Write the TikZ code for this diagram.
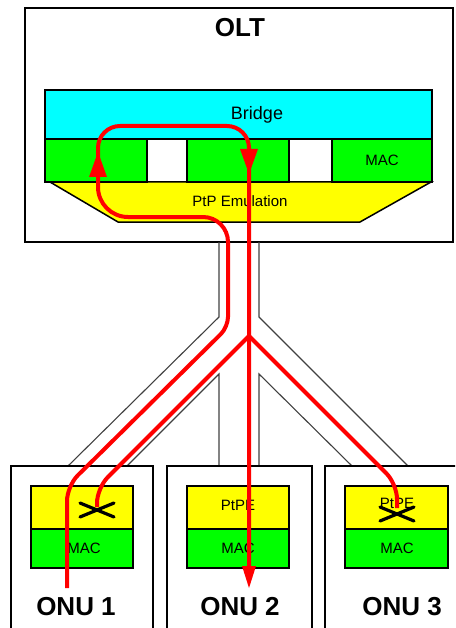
\documentclass[tikz,border=0pt]{standalone}
\usepackage{fontspec}
\setmainfont{Liberation Sans}
\definecolor{bcyan}{RGB}{0,255,255}
\definecolor{bgreen}{RGB}{0,255,0}
\definecolor{byellow}{RGB}{255,255,0}
\definecolor{bred}{RGB}{255,0,0}
\begin{document}
\begin{tikzpicture}[x=1pt,y=-1pt,
  box/.style={draw=black, line width=1.5pt},
  fiber/.style={draw=black!75, line width=1.1pt},
  redpath/.style={draw=bred, line width=4pt},
  redtip/.style={fill=bred},
  xmark/.style={draw=black, line width=3.2pt, line cap=round},
  lbl/.style={font=\fontsize{15}{15}\selectfont, inner sep=0pt},
  mid/.style={font=\fontsize{18}{18}\selectfont, inner sep=0pt},
  big/.style={font=\fontsize{26}{26}\selectfont\bfseries, inner sep=0pt}]
\useasboundingbox (0,0) rectangle (455,628);
\begin{scope}
\clip (0,0) rectangle (455,628);
% OLT
\draw[box,fill=white] (25,8) rectangle (453,242);
\node[big] (olt) at (240,28) {OLT};
\draw[box,fill=byellow] (50,182) -- (431,182) -- (360,222) -- (118,222) -- cycle;
\draw[box,fill=bcyan] (45,90) rectangle (432,139);
\draw[box,fill=bgreen] (45,139) rectangle (147,182);
\draw[box,fill=bgreen] (187,139) rectangle (289,182);
\draw[box,fill=bgreen] (332,139) rectangle (432,182);
\node[mid] (bridge) at (257,115) {Bridge};
\node[lbl] (mac0) at (382,160) {MAC};
\node[lbl] (ptp) at (240,201) {PtP Emulation};
% fibre
\draw[fiber] (219,242) -- (219,317) -- (68,466);
\draw[fiber] (259,242) -- (259,317) -- (408,466);
\draw[fiber] (127,466) -- (219,374) -- (219,466);
\draw[fiber] (352,466) -- (259,374) -- (259,466);
% ONUs
\draw[box,fill=white] (11,466) rectangle (153,640);
\draw[box,fill=white] (167,466) rectangle (312,640);
\draw[box,fill=white] (325,466) rectangle (470,640);
\draw[box,fill=byellow] (31,486) rectangle (133,529);
\draw[box,fill=bgreen] (31,529) rectangle (133,568);
\draw[box,fill=byellow] (187,486) rectangle (289,529);
\draw[box,fill=bgreen] (187,529) rectangle (289,568);
\draw[box,fill=byellow] (345,486) rectangle (448,529);
\draw[box,fill=bgreen] (345,529) rectangle (448,568);
\node[lbl] (mac1) at (84,548) {MAC};
\node[lbl] (ptpe2) at (238,505) {PtPE};
\node[lbl] (mac2) at (238,548) {MAC};
\node[lbl] (ptpe3) at (397,503) {PtPE};
\node[lbl] (mac3) at (397,548) {MAC};
\node[big] (onu1) at (76,607) {ONU 1};
\node[big] (onu2) at (240,607) {ONU 2};
\node[big] (onu3) at (402,607) {ONU 3};
% red paths
\draw[redpath] (67,588) [rounded corners=15pt] -- (67,486) [rounded corners=10pt] -- (228,327)
  [rounded corners=25pt] -- (228,217) [rounded corners=30pt] -- (98,217)
  [rounded corners=22pt] -- (98,126) -- (249,126) [sharp corners] -- (249,570);
\draw[redpath, rounded corners=15pt] (249,336) -- (97,488) -- (97,507);
\draw[redpath, rounded corners=15pt] (249,336) -- (397,484) -- (397,508);
\fill[redtip] (98,152) -- (107,177) -- (89,177) -- cycle;
\fill[redtip] (249,174) -- (258,149) -- (240,149) -- cycle;
\fill[redtip] (249,588) -- (256,566) -- (242,566) -- cycle;
% crosses
\draw[xmark] (80,503) -- (114,517) (80,517) -- (114,503);
\draw[xmark] (380,507) -- (414,521) (380,521) -- (414,507);
\end{scope}
\end{tikzpicture}
\end{document}
